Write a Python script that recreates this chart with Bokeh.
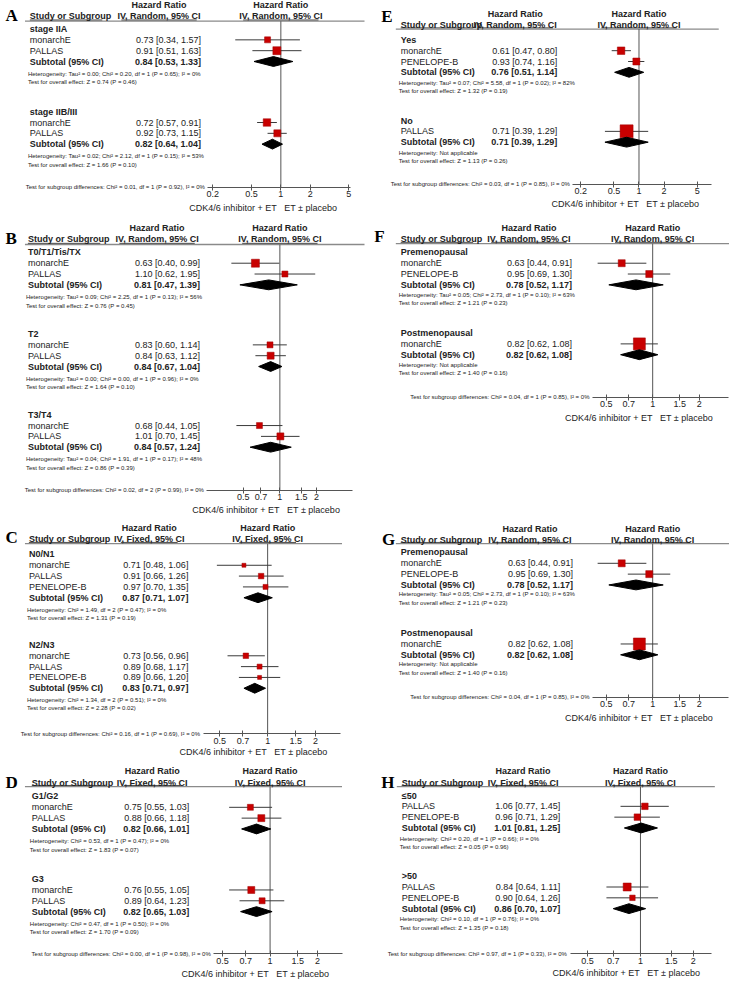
import math
from bokeh.plotting import figure
from bokeh.models import (Range1d, LogScale, LogAxis, FixedTicker,
                          NumeralTickFormatter, ColumnDataSource)
from bokeh.core.properties import value
from bokeh.embed import file_html
from bokeh.resources import INLINE

# ---------------- data ----------------
A_method = "IV, Random, 95% CI"
A_groups = ["stage IIA", "stage IIB/III"]
A_studies = [["monarchE", "PALLAS"], ["monarchE", "PALLAS"]]
A_hr = [[0.73, 0.91], [0.72, 0.92]]
A_lo = [[0.34, 0.51], [0.57, 0.73]]
A_hi = [[1.57, 1.63], [0.91, 1.15]]
A_wt = [[6, 8], [7.5, 7]]
A_sub = [0.84, 0.82]
A_sub_lo = [0.53, 0.64]
A_sub_hi = [1.33, 1.04]
A_het = ["Heterogeneity: Tau² = 0.00; Chi² = 0.20, df = 1 (P = 0.65); I² = 0%",
         "Heterogeneity: Tau² = 0.02; Chi² = 2.12, df = 1 (P = 0.15); I² = 53%"]
A_eff = ["Test for overall effect: Z = 0.74 (P = 0.46)",
         "Test for overall effect: Z = 1.66 (P = 0.10)"]
A_diff = "Test for subgroup differences: Chi² = 0.01, df = 1 (P = 0.92), I² = 0%"
A_ticks = [0.2, 0.5, 1, 2, 5]

B_method = "IV, Random, 95% CI"
B_groups = ["T0/T1/Tis/TX", "T2", "T3/T4"]
B_studies = [["monarchE", "PALLAS"], ["monarchE", "PALLAS"], ["monarchE", "PALLAS"]]
B_hr = [[0.63, 1.10], [0.83, 0.84], [0.68, 1.01]]
B_lo = [[0.40, 0.62], [0.60, 0.63], [0.44, 0.70]]
B_hi = [[0.99, 1.95], [1.14, 1.12], [1.05, 1.45]]
B_wt = [[8, 6], [6, 7], [6, 7]]
B_sub = [0.81, 0.84, 0.84]
B_sub_lo = [0.47, 0.67, 0.57]
B_sub_hi = [1.39, 1.04, 1.24]
B_het = ["Heterogeneity: Tau² = 0.09; Chi² = 2.25, df = 1 (P = 0.13); I² = 56%",
         "Heterogeneity: Tau² = 0.00; Chi² = 0.00, df = 1 (P = 0.96); I² = 0%",
         "Heterogeneity: Tau² = 0.04; Chi² = 1.91, df = 1 (P = 0.17); I² = 48%"]
B_eff = ["Test for overall effect: Z = 0.76 (P = 0.45)",
         "Test for overall effect: Z = 1.64 (P = 0.10)",
         "Test for overall effect: Z = 0.86 (P = 0.39)"]
B_diff = "Test for subgroup differences: Chi² = 0.02, df = 2 (P = 0.99), I² = 0%"
B_ticks = [0.5, 0.7, 1, 1.5, 2]

C_method = "IV, Fixed, 95% CI"
C_groups = ["N0/N1", "N2/N3"]
C_studies = [["monarchE", "PALLAS", "PENELOPE-B"], ["monarchE", "PALLAS", "PENELOPE-B"]]
C_hr = [[0.71, 0.91, 0.97], [0.73, 0.89, 0.89]]
C_lo = [[0.48, 0.66, 0.70], [0.56, 0.68, 0.66]]
C_hi = [[1.06, 1.26, 1.35], [0.96, 1.17, 1.20]]
C_wt = [[4, 5.5, 5], [5.5, 5, 4]]
C_sub = [0.87, 0.83]
C_sub_lo = [0.71, 0.71]
C_sub_hi = [1.07, 0.97]
C_het = ["Heterogeneity: Chi² = 1.49, df = 2 (P = 0.47); I² = 0%",
         "Heterogeneity: Chi² = 1.34, df = 2 (P = 0.51); I² = 0%"]
C_eff = ["Test for overall effect: Z = 1.31 (P = 0.19)",
         "Test for overall effect: Z = 2.28 (P = 0.02)"]
C_diff = "Test for subgroup differences: Chi² = 0.16, df = 1 (P = 0.69), I² = 0%"
C_ticks = [0.5, 0.7, 1, 1.5, 2]

D_method = "IV, Fixed, 95% CI"
D_groups = ["G1/G2", "G3"]
D_studies = [["monarchE", "PALLAS"], ["monarchE", "PALLAS"]]
D_hr = [[0.75, 0.88], [0.76, 0.89]]
D_lo = [[0.55, 0.66], [0.55, 0.64]]
D_hi = [[1.03, 1.18], [1.05, 1.23]]
D_wt = [[6, 7], [7, 6]]
D_sub = [0.82, 0.82]
D_sub_lo = [0.66, 0.65]
D_sub_hi = [1.01, 1.03]
D_het = ["Heterogeneity: Chi² = 0.53, df = 1 (P = 0.47); I² = 0%",
         "Heterogeneity: Chi² = 0.47, df = 1 (P = 0.50); I² = 0%"]
D_eff = ["Test for overall effect: Z = 1.83 (P = 0.07)",
         "Test for overall effect: Z = 1.70 (P = 0.09)"]
D_diff = "Test for subgroup differences: Chi² = 0.00, df = 1 (P = 0.98), I² = 0%"
D_ticks = [0.5, 0.7, 1, 1.5, 2]

E_method = "IV, Random, 95% CI"
E_groups = ["Yes", "No"]
E_studies = [["monarchE", "PENELOPE-B"], ["PALLAS"]]
E_hr = [[0.61, 0.93], [0.71]]
E_lo = [[0.47, 0.74], [0.39]]
E_hi = [[0.80, 1.16], [1.29]]
E_wt = [[7.5, 7], [13]]
E_sub = [0.76, 0.71]
E_sub_lo = [0.51, 0.39]
E_sub_hi = [1.14, 1.29]
E_het = ["Heterogeneity: Tau² = 0.07; Chi² = 5.58, df = 1 (P = 0.02); I² = 82%",
         "Heterogeneity: Not applicable"]
E_eff = ["Test for overall effect: Z = 1.32 (P = 0.19)",
         "Test for overall effect: Z = 1.13 (P = 0.26)"]
E_diff = "Test for subgroup differences: Chi² = 0.03, df = 1 (P = 0.85), I² = 0%"
E_ticks = [0.2, 0.5, 1, 2, 5]

F_method = "IV, Random, 95% CI"
F_groups = ["Premenopausal", "Postmenopausal"]
F_studies = [["monarchE", "PENELOPE-B"], ["monarchE"]]
F_hr = [[0.63, 0.95], [0.82]]
F_lo = [[0.44, 0.69], [0.62]]
F_hi = [[0.91, 1.30], [1.08]]
F_wt = [[7, 7], [12]]
F_sub = [0.78, 0.82]
F_sub_lo = [0.52, 0.62]
F_sub_hi = [1.17, 1.08]
F_het = ["Heterogeneity: Tau² = 0.05; Chi² = 2.73, df = 1 (P = 0.10); I² = 63%",
         "Heterogeneity: Not applicable"]
F_eff = ["Test for overall effect: Z = 1.21 (P = 0.23)",
         "Test for overall effect: Z = 1.40 (P = 0.16)"]
F_diff = "Test for subgroup differences: Chi² = 0.04, df = 1 (P = 0.85), I² = 0%"
F_ticks = [0.5, 0.7, 1, 1.5, 2]

G_method = "IV, Random, 95% CI"
G_groups = ["Premenopausal", "Postmenopausal"]
G_studies = [["monarchE", "PENELOPE-B"], ["monarchE"]]
G_hr = [[0.63, 0.95], [0.82]]
G_lo = [[0.44, 0.69], [0.62]]
G_hi = [[0.91, 1.30], [1.08]]
G_wt = [[7, 7], [12]]
G_sub = [0.78, 0.82]
G_sub_lo = [0.52, 0.62]
G_sub_hi = [1.17, 1.08]
G_het = ["Heterogeneity: Tau² = 0.05; Chi² = 2.73, df = 1 (P = 0.10); I² = 63%",
         "Heterogeneity: Not applicable"]
G_eff = ["Test for overall effect: Z = 1.21 (P = 0.23)",
         "Test for overall effect: Z = 1.40 (P = 0.16)"]
G_diff = "Test for subgroup differences: Chi² = 0.04, df = 1 (P = 0.85), I² = 0%"
G_ticks = [0.5, 0.7, 1, 1.5, 2]

H_method = "IV, Fixed, 95% CI"
H_groups = ["≤50", ">50"]
H_studies = [["PALLAS", "PENELOPE-B"], ["PALLAS", "PENELOPE-B"]]
H_hr = [[1.06, 0.96], [0.84, 0.90]]
H_lo = [[0.77, 0.71], [0.64, 0.64]]
H_hi = [[1.45, 1.29], [1.11, 1.26]]
H_wt = [[6.5, 6.5], [8, 5.5]]
H_sub = [1.01, 0.86]
H_sub_lo = [0.81, 0.70]
H_sub_hi = [1.25, 1.07]
H_het = ["Heterogeneity: Chi² = 0.20, df = 1 (P = 0.66); I² = 0%",
         "Heterogeneity: Chi² = 0.10, df = 1 (P = 0.76); I² = 0%"]
H_eff = ["Test for overall effect: Z = 0.05 (P = 0.96)",
         "Test for overall effect: Z = 1.35 (P = 0.18)"]
H_diff = "Test for subgroup differences: Chi² = 0.97, df = 1 (P = 0.33), I² = 0%"
H_ticks = [0.5, 0.7, 1, 1.5, 2]

AXIS_LABEL = "CDK4/6 inhibitor + ET\u00a0\u00a0\u00a0ET ± placebo"

g = globals()
PANELS = {}
for k in "ABCDEFGH":
    PANELS[k] = {f: g[f"{k}_{f}"] for f in
                 ["method", "groups", "studies", "hr", "lo", "hi", "wt", "sub",
                  "sub_lo", "sub_hi", "het", "eff", "diff", "ticks"]}

# ---------------- layout (reference pixel coordinates) ----------------
LAYOUT = {
    "A": dict(letter=(5, 15), hr_y=5, hdr_y=16, line_y=21, line_x=(25, 372), name_x=30, val_x=205,
              valhdr_x=162, groups_y=[29, 113], het_dy=12.5, axis_y=190, axis_x=(212, 358),
              anchor=((0.2, 217), (5, 356)), lab_x=193, lab_y=211),
    "B": dict(letter=(5, 242), hr_y=231, hdr_y=242, line_y=248, line_x=(25, 372), name_x=28, val_x=204,
              valhdr_x=160, groups_y=[256, 339, 421], het_dy=12.5, axis_y=498, axis_x=(211, 360),
              anchor=((0.5, 248), (2, 323)), lab_x=196, lab_y=518),
    "C": dict(letter=(5, 546), hr_y=536, hdr_y=547, line_y=552, line_x=(25, 349), name_x=29, val_x=192,
              valhdr_x=152, groups_y=[563, 655], het_dy=12, axis_y=745, axis_x=(207, 347),
              anchor=((0.5, 224), (2, 322)), lab_x=183, lab_y=764),
    "D": dict(letter=(5, 795), hr_y=783, hdr_y=795, line_y=799, line_x=(25, 349), name_x=32, val_x=193,
              valhdr_x=155, groups_y=[809, 893], het_dy=12.5, axis_y=969, axis_x=(218, 349),
              anchor=((0.5, 227), (2, 324)), lab_x=185, lab_y=989),
    "E": dict(letter=(389, 16), hr_y=14, hdr_y=25, line_y=29, line_x=(404, 734), name_x=409, val_x=569,
              valhdr_x=526, groups_y=[40, 122], het_dy=10.5, axis_y=187, axis_x=(585, 727),
              anchor=((0.2, 593), (5, 712)), lab_x=563, lab_y=207),
    "F": dict(letter=(382, 240), hr_y=231, hdr_y=242, line_y=247, line_x=(404, 745), name_x=409, val_x=584,
              valhdr_x=540, groups_y=[256, 338], het_dy=10, axis_y=403, axis_x=(605, 744),
              anchor=((0.5, 619), (2, 714)), lab_x=577, lab_y=424),
    "G": dict(letter=(390, 548), hr_y=537, hdr_y=548, line_y=552, line_x=(404, 745), name_x=409, val_x=585,
              valhdr_x=541, groups_y=[561, 643], het_dy=9.5, axis_y=708, axis_x=(605, 744),
              anchor=((0.5, 619), (2, 714)), lab_x=577, lab_y=729),
    "H": dict(letter=(389, 795), hr_y=783, hdr_y=795, line_y=799, line_x=(405, 730), name_x=410, val_x=572,
              valhdr_x=534, groups_y=[808, 890], het_dy=11, axis_y=969, axis_x=(582, 727),
              anchor=((0.5, 600), (2, 708)), lab_x=564, lab_y=988),
}
STEP = 11
W_REF, H_REF = 745, 995
UL_STUDY = 74
UL_METHOD = {"IV, Random, 95% CI": 77, "IV, Fixed, 95% CI": 58}

FONT = "Liberation Sans"
SERIF = "Liberation Serif"
TXT = "#222222"
RED = "#C80000"
SMALL = "6px"

p = figure(width=729, height=979, x_range=Range1d(0, W_REF), y_range=Range1d(H_REF, 0),
           output_backend="svg", toolbar_location=None,
           x_axis_location=None, y_axis_location=None, min_border=0)
p.outline_line_color = None
p.grid.visible = False
p.background_fill_color = "white"

texts = {}


def add_text(x, y, s, size="9px", style="normal", align="left", rng="default", font=FONT, color=TXT):
    key = (size, style, align, rng, font, color)
    d = texts.setdefault(key, dict(x=[], y=[], t=[]))
    d["x"].append(x)
    d["y"].append(y)
    d["t"].append(s)


extra_ranges = {}
extra_scales = {}
axes = []
ul = dict(x0=[], x1=[], y=[])

for k in "ABCDEFGH":
    L = LAYOUT[k]
    D = PANELS[k]
    (h1, p1), (h2, p2) = L["anchor"]
    kk = (math.log10(h2) - math.log10(h1)) / (p2 - p1)

    def hr_at(px, h1=h1, p1=p1, kk=kk):
        return 10 ** (math.log10(h1) + (px - p1) * kk)

    px_one = p1 - math.log10(h1) / kk

    extra_ranges[k] = Range1d(hr_at(0), hr_at(W_REF))
    extra_scales[k] = LogScale()

    # panel letter
    add_text(L["letter"][0], L["letter"][1], k, size="17px", style="bold", font=SERIF, color="black")
    # headers
    add_text(L["valhdr_x"], L["hr_y"], "Hazard Ratio", style="bold", align="center")
    add_text(1, L["hr_y"], "Hazard Ratio", style="bold", align="center", rng=k)
    add_text(L["name_x"], L["hdr_y"], "Study or Subgroup", style="bold")
    add_text(L["valhdr_x"], L["hdr_y"], D["method"], style="bold", align="center")
    add_text(1, L["hdr_y"], D["method"], style="bold", align="center", rng=k)
    p.segment(x0=[L["line_x"][0]], x1=[L["line_x"][1]], y0=[L["line_y"]], y1=[L["line_y"]],
              line_color="#8a8a8a", line_width=1.3)
    wm = UL_METHOD[D["method"]]
    uy = L["line_y"] - 1.2
    ul["x0"] += [L["name_x"], L["valhdr_x"] - wm / 2, px_one - wm / 2]
    ul["x1"] += [L["name_x"] + UL_STUDY, L["valhdr_x"] + wm / 2, px_one + wm / 2]
    ul["y"] += [uy, uy, uy]
    # line of no effect
    p.segment(x0=[1], x1=[1], y0=[L["line_y"]], y1=[L["axis_y"]], x_range_name=k,
              line_color="#555555", line_width=1)

    sq = dict(x=[], y=[], s=[])
    ci = dict(x0=[], x1=[], y=[])
    dia_xs, dia_ys = [], []
    for gi, gname in enumerate(D["groups"]):
        gy = L["groups_y"][gi]
        add_text(L["name_x"], gy, gname, style="bold")
        studies = D["studies"][gi]
        for si, st in enumerate(studies):
            y = gy + STEP * (si + 1)
            hr, lo, hi = D["hr"][gi][si], D["lo"][gi][si], D["hi"][gi][si]
            add_text(L["name_x"], y, st)
            add_text(L["val_x"], y, f"{hr:.2f} [{lo:.2f}, {hi:.2f}]", align="right")
            sq["x"].append(hr)
            sq["y"].append(y)
            sq["s"].append(D["wt"][gi][si])
            ci["x0"].append(lo)
            ci["x1"].append(hi)
            ci["y"].append(y)
        ys = gy + STEP * (len(studies) + 1)
        sv, sl, sh = D["sub"][gi], D["sub_lo"][gi], D["sub_hi"][gi]
        add_text(L["name_x"], ys, "Subtotal (95% CI)", style="bold")
        add_text(L["val_x"], ys, f"{sv:.2f} [{sl:.2f}, {sh:.2f}]", style="bold", align="right")
        dia_xs.append([sl, sv, sh, sv])
        dia_ys.append([ys, ys - 5, ys, ys + 5])
        yh = ys + L["het_dy"]
        add_text(L["name_x"] - 2, yh, D["het"][gi], size=SMALL)
        add_text(L["name_x"] - 2, yh + 8.5, D["eff"][gi], size=SMALL)

    add_text(L["axis_x"][0] - 3, L["axis_y"], D["diff"], size=SMALL, align="right")
    add_text(L["lab_x"], L["lab_y"], AXIS_LABEL, size="9px")

    p.segment(x0="x0", x1="x1", y0="y", y1="y", source=ColumnDataSource(ci), x_range_name=k,
              line_color="#3a3a3a", line_width=1)
    p.scatter(x="x", y="y", size="s", source=ColumnDataSource(sq), marker="square",
              fill_color=RED, line_color="#A00000", line_width=0.5, x_range_name=k)
    p.patches(xs=dia_xs, ys=dia_ys, fill_color="black", line_color="black", x_range_name=k)

    ax = LogAxis(x_range_name=k, fixed_location=L["axis_y"],
                 ticker=FixedTicker(ticks=D["ticks"], minor_ticks=[]),
                 formatter=NumeralTickFormatter(format="0.[0]"),
                 bounds=(hr_at(L["axis_x"][0]), hr_at(L["axis_x"][1])),
                 axis_line_color="#555555", axis_line_width=1,
                 major_tick_line_color="#555555", major_tick_in=3, major_tick_out=3,
                 minor_tick_in=0, minor_tick_out=0, minor_tick_line_color=None,
                 major_label_text_font=FONT, major_label_text_font_size="9px",
                 major_label_text_color=TXT, major_label_standoff=1)
    axes.append(ax)

# header underlines
p.segment(x0="x0", x1="x1", y0="y", y1="y", source=ColumnDataSource(ul),
          line_color="#222222", line_width=0.8)

p.extra_x_ranges = extra_ranges
p.extra_x_scales = extra_scales
for ax in axes:
    p.add_layout(ax, "below")

for (size, style, align, rng, font, color), d in texts.items():
    p.text(x="x", y="y", text="t", source=ColumnDataSource(d), x_range_name=rng,
           text_font=value(font), text_font_size=size, text_font_style=style,
           text_align=align, text_baseline="middle", text_color=color)

open("out.html", "w").write(file_html(p, INLINE))
